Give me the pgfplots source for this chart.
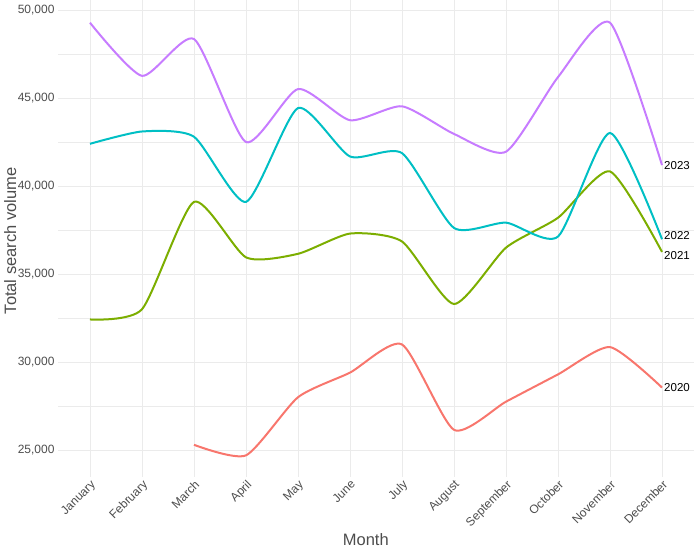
\documentclass[border=0pt]{standalone}
\usepackage{pgfplots}
\pgfplotsset{compat=1.18}
\usepackage{fontspec}
\setmainfont{Liberation Sans}
\definecolor{c20}{HTML}{F8766D}
\definecolor{c21}{HTML}{7CAE00}
\definecolor{c22}{HTML}{00BFC4}
\definecolor{c23}{HTML}{C77CFF}
\definecolor{gridc}{HTML}{EBEBEB}
\definecolor{txt}{HTML}{4D4D4D}
\begin{document}
\begin{tikzpicture}
\useasboundingbox (-58pt,-75pt) rectangle (636pt,477pt);
\begin{axis}[
  scale only axis, width=636pt, height=477pt,
  xmin=0.385, xmax=12.615, ymin=23470, ymax=50570,
  axis line style={draw=none},
  tick style={draw=none},
  xtick={1,...,12},
  xticklabels={January,February,March,April,May,June,July,August,September,October,November,December},
  ytick={25000,30000,35000,40000,45000,50000},
  minor ytick={27500,32500,37500,42500,47500},
  grid=both,
  major grid style={draw=gridc, line width=0.9pt},
  minor grid style={draw=gridc, line width=0.5pt},
  tick label style={font=\fontsize{12}{14}\selectfont, text=txt},
  xticklabel style={rotate=45, anchor=north east, inner sep=1.5pt},
  /pgf/number format/1000 sep={,},
  /pgf/number format/assume math mode=true,
  scaled y ticks=false,
  xlabel={Month}, ylabel={Total search volume},
  label style={font=\fontsize{16.5}{19}\selectfont, text=txt},
  xlabel style={at={(axis description cs:0.484,-0.1426)}, anchor=base},
  ylabel style={at={(axis description cs:-0.0660,0.495)}, anchor=base},
  clip=false,
  every axis plot/.append style={line width=2pt, smooth, tension=0.38},
]
\addplot[c20] coordinates {(3,25300) (4,24700) (5,28000) (6,29400) (7,31000) (8,26150) (9,27750) (10,29300) (11,30850) (12,28550)};
\addplot[c21] coordinates {(1,32420) (2,33000) (3,39100) (4,35950) (5,36150) (6,37300) (7,36850) (8,33300) (9,36500) (10,38200) (11,40830) (12,36260)};
\addplot[c22] coordinates {(1,42400) (2,43100) (3,42800) (4,39100) (5,44430) (6,41680) (7,41870) (8,37620) (9,37920) (10,37130) (11,43020) (12,36980)};
\addplot[c23] coordinates {(1,49280) (2,46260) (3,48350) (4,42500) (5,45510) (6,43740) (7,44530) (8,42960) (9,41950) (10,46190) (11,49280) (12,41190)};
\node[anchor=west, inner sep=2pt, font=\fontsize{11.5}{13}\selectfont] at (axis cs:12,41170) {2023};
\node[anchor=west, inner sep=2pt, font=\fontsize{11.5}{13}\selectfont] at (axis cs:12,37210) {2022};
\node[anchor=west, inner sep=2pt, font=\fontsize{11.5}{13}\selectfont] at (axis cs:12,36080) {2021};
\node[anchor=west, inner sep=2pt, font=\fontsize{11.5}{13}\selectfont] at (axis cs:12,28550) {2020};
\end{axis}
\end{tikzpicture}
\end{document}
